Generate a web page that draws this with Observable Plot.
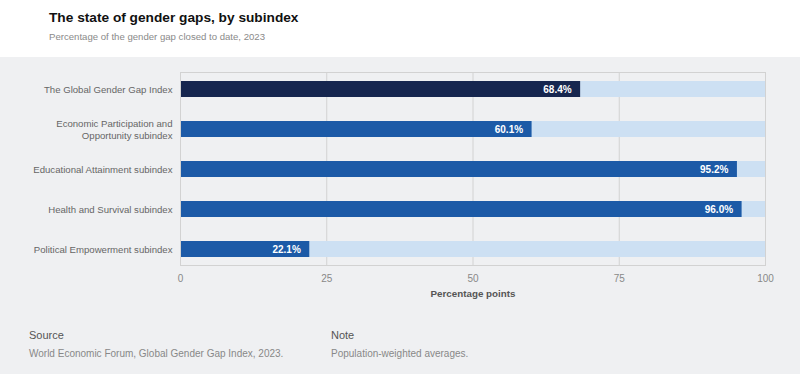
<!DOCTYPE html>
<html>
<head>
<meta charset="utf-8">
<script src="https://cdn.jsdelivr.net/npm/d3@7"></script>
<script src="https://cdn.jsdelivr.net/npm/@observablehq/plot@0.6"></script>
<style>
  html, body { margin: 0; padding: 0; width: 800px; height: 374px; overflow: hidden; background: #eff0f2; font-family: "Liberation Sans", Arial, sans-serif; }
  #head { background: #fff; height: 57px; position: relative; }
  #title { position: absolute; left: 49px; top: 10px; font-size: 13.7px; font-weight: bold; color: #111; }
  #subtitle { position: absolute; left: 49px; top: 31px; font-size: 9.6px; color: #8a8a8a; }
  #chart { height: 250px; }
  #foot { position: relative; height: 67px; }
  .fh { position: absolute; top: 22px; font-size: 11px; color: #555; }
  .ft { position: absolute; top: 41px; font-size: 10px; color: #888; }
</style>
</head>
<body>
<div id="head">
  <div id="title">The state of gender gaps, by subindex</div>
  <div id="subtitle">Percentage of the gender gap closed to date, 2023</div>
</div>
<div id="chart"></div>
<div id="foot">
  <div class="fh" style="left:29px">Source</div>
  <div class="ft" style="left:29px">World Economic Forum, Global Gender Gap Index, 2023.</div>
  <div class="fh" style="left:331px">Note</div>
  <div class="ft" style="left:331px">Population-weighted averages.</div>
</div>
<script>
const categories = [
  "The Global Gender Gap Index",
  "Economic Participation and\nOpportunity subindex",
  "Educational Attainment subindex",
  "Health and Survival subindex",
  "Political Empowerment subindex"
];
const values = [68.4, 60.1, 95.2, 96.0, 22.1];
const kinds = ["index", "sub", "sub", "sub", "sub"];
const xTicks = [0, 25, 50, 75, 100];
const fullScale = 100;

const data = categories.map((c, i) => ({cat: c, value: values[i], kind: kinds[i]}));

const chart = Plot.plot({
  width: 800,
  height: 250,
  marginTop: 15,
  marginBottom: 42,
  marginLeft: 180,
  marginRight: 35,
  style: {background: "transparent", fontFamily: "Liberation Sans, Arial, sans-serif"},
  x: {domain: [0, 100], ticks: xTicks},
  y: {domain: categories, paddingInner: 0.6, paddingOuter: 0.19},
  color: {domain: ["index", "sub"], range: ["#16264f", "#1c5aa7"]},
  marks: [
    Plot.gridX(xTicks, {stroke: "#d2d2d2", strokeOpacity: 1}),
    Plot.barX(data, {x1: 0, x2: () => fullScale, y: "cat", fill: "#cde0f3"}),
    Plot.barX(data, {x: "value", y: "cat", fill: "kind"}),
    Plot.text(data, {x: "value", y: "cat", text: d => d.value.toFixed(1) + "%", textAnchor: "end", dx: -9, fill: "white", fontWeight: "bold", fontSize: 10}),
    Plot.frame({stroke: "#d2d2d2"}),
    Plot.axisY({tickSize: 0, tickPadding: 8, fontSize: 9.6, color: "#666", label: null, lineHeight: 1.25}),
    Plot.axisX(xTicks, {tickSize: 0, tickPadding: 9, fontSize: 10, color: "#888", label: null}),
    Plot.text(["Percentage points"], {frameAnchor: "bottom", dy: 31, fontSize: 9.8, fontWeight: "bold", fill: "#555"})
  ]
});
document.getElementById("chart").appendChild(chart);
</script>
</body>
</html>
